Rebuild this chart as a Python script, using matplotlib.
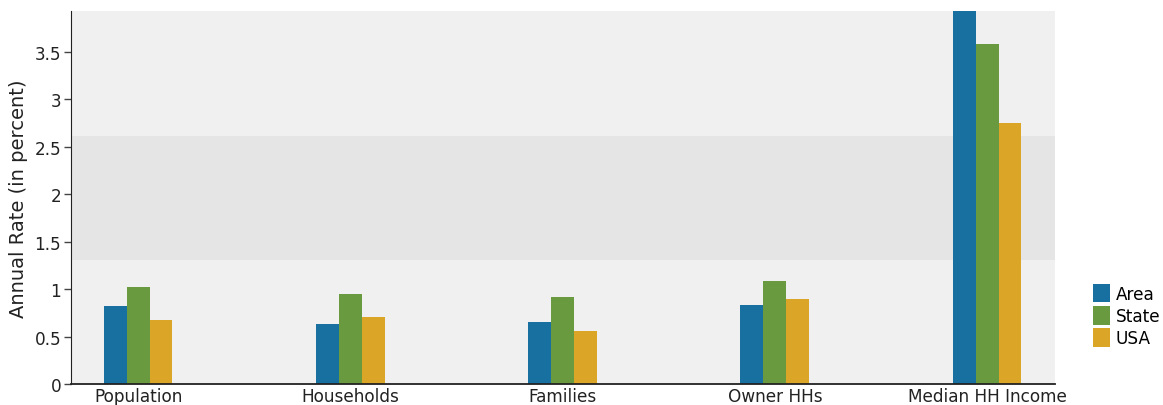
import matplotlib
matplotlib.use("Agg")
import matplotlib.pyplot as plt
import numpy as np

categories = ["Population", "Households", "Families", "Owner HHs", "Median HH Income"]
area = [0.823, 0.633, 0.657, 0.837, 3.93]
state = [1.023, 0.949, 0.921, 1.090, 3.587]
usa = [0.675, 0.707, 0.562, 0.900, 2.753]
series_names = ["Area", "State", "USA"]
colors = ["#1770a0", "#6a9a40", "#dba628"]
band = (1.308, 2.616)
yticks = [0, 0.5, 1, 1.5, 2, 2.5, 3, 3.5]
ytick_labels = ["0", "0.5", "1", "1.5", "2", "2.5", "3", "3.5"]

plt.rcParams['font.family'] = ['DejaVu Sans']
fig = plt.figure(figsize=(11.63, 4.06), dpi=100)
ax = fig.add_axes([71/1163, 1 - 385/406, (1055-71)/1163, (385-12)/406])
ax.set_facecolor("#f0f0f0")
ax.axhspan(band[0], band[1], color="#e5e5e5", zorder=0, lw=0)

x = np.arange(len(categories))
w = 0.108
for i, (vals, name, c) in enumerate(zip([area, state, usa], series_names, colors)):
    ax.bar(x + (i - 1) * w, vals, width=w, color=c, label=name, zorder=2, lw=0)

ax.set_xlim(-0.316, 4.32)
ax.set_ylim(0, 3.93)
ax.set_xticks(x)
ax.set_xticklabels(categories, fontsize=12.2, color="#222222")
ax.tick_params(axis="x", length=0, pad=2)
ax.set_yticks(yticks)
ax.set_yticklabels(ytick_labels, fontsize=12.2, color="#222222")
ax.tick_params(axis="y", length=5, width=1, color="#444444", pad=2)
ax.set_ylabel("Annual Rate (in percent)", fontsize=14, color="#222222", labelpad=5)
for s in ["top", "right"]:
    ax.spines[s].set_visible(False)
ax.spines["left"].set_color("#222222")
ax.spines["bottom"].set_color("#222222")
ax.spines["bottom"].set_linewidth(1.3)

leg = fig.legend(loc="upper left", bbox_to_anchor=(1086/1163, 1 - 278/406), frameon=False,
                 fontsize=12.2, handlelength=1.0, handleheight=1.3, handletextpad=0.35,
                 labelspacing=0.2, borderaxespad=0)
fig.savefig("out.png", dpi=100, facecolor="white")
